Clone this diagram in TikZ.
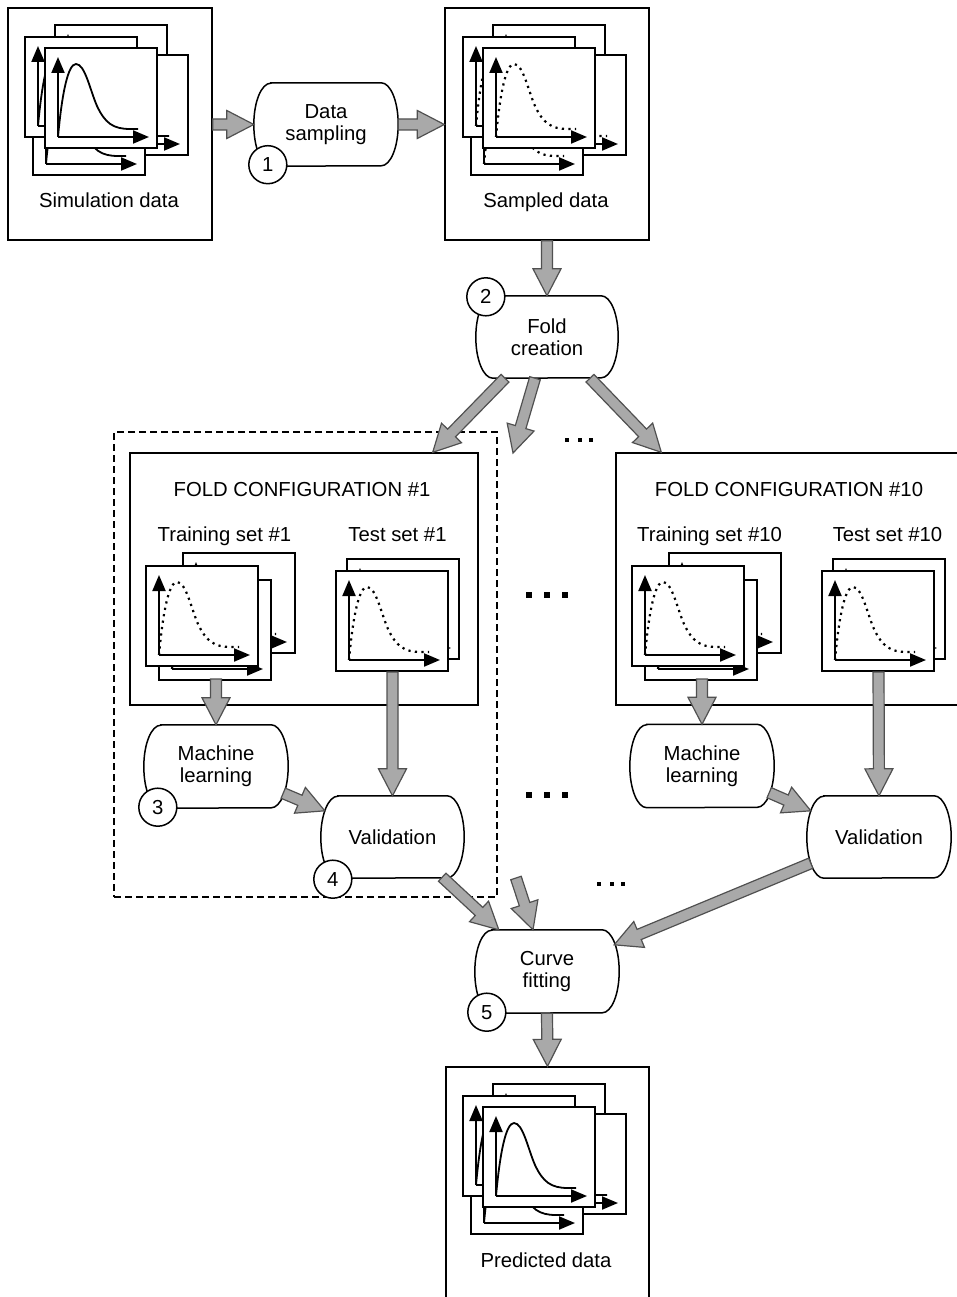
\documentclass[tikz,border=0pt]{standalone}
\usepackage{fontspec}
\setmainfont{Liberation Sans}
\usetikzlibrary{calc,arrows.meta}
\newcommand\dfont{\fontsize{20.3}{22}\selectfont}
\definecolor{arrowfill}{HTML}{A9A9A9}
\definecolor{arrowline}{HTML}{505050}
\tikzset{
  outerbox/.style={draw, line width=1.4pt, inner sep=0pt},
  dashbox/.style={draw, line width=1.4pt, inner sep=0pt, dash pattern=on 7pt off 4pt},
  framebox/.style={draw, fill=white, line width=1.8pt},
  plotaxis/.style={line width=2pt, -{Triangle[length=16pt,width=13pt]}},
  solidcurve/.style={line width=1.8pt},
  dotcurve/.style={line width=2.2pt, dash pattern=on 2.2pt off 4.3pt},
  lbl/.style={font=\dfont, inner sep=0pt, align=center},
  proctext/.style={font=\dfont, inner sep=0pt, align=center, draw=none},
  procline/.style={draw, line width=1.5pt},
  numcirc/.style={circle, draw, line width=1.5pt, fill=white, minimum size=38pt, inner sep=0pt, font=\dfont},
  blockarrow/.style={draw=arrowline, fill=arrowfill, line width=1.2pt, line join=miter},
  pics/plotframe/.style={code={
     \draw[framebox] (0,0) rectangle (112,100);
     \draw[#1] (13,89) .. controls (17,45) and (23,16) .. (31,16)
        .. controls (40,16) and (45,42) .. (52,58)
        .. controls (60,75) and (68,81) .. (85,81) -- (93,81);
     \draw[plotaxis] (13,89) -- (13,9);
     \draw[plotaxis] (13,89) -- (104,89);
  }},
}
\newcommand\bigstack[3]{%
  \begin{scope}[shift={(#1,#2)}]
    \pic at (10,-23) {plotframe=#3};
    \pic at (31,7) {plotframe=#3};
    \pic at (-12,27) {plotframe=#3};
    \pic at (-20,-11) {plotframe=#3};
    \pic at (0,0) {plotframe=#3};
  \end{scope}}
\newcommand\trainstack[2]{%
  \begin{scope}[shift={(#1,#2)}]
    \pic at (37,-13) {plotframe=dotcurve};
    \pic at (13,14) {plotframe=dotcurve};
    \pic at (0,0) {plotframe=dotcurve};
  \end{scope}}
\newcommand\teststack[2]{%
  \begin{scope}[shift={(#1,#2)}]
    \pic at (11,-12) {plotframe=dotcurve};
    \pic at (0,0) {plotframe=dotcurve};
  \end{scope}}
\newcommand\procnode[6]{%
  \node[proctext, minimum width=#4pt, minimum height=#5pt] (#1) at (#2,#3) {#6};
  \draw[procline] ([xshift=17pt]#1.north west) -- ([xshift=-17pt]#1.north east)
     arc[start angle=90, end angle=-90, x radius=17pt, y radius=#5pt/2]
     -- ([xshift=17pt]#1.south west)
     arc[start angle=270, end angle=90, x radius=17pt, y radius=#5pt/2] -- cycle;
}
\newcommand\barrow[2]{%
  \coordinate (bas) at (#1);
  \coordinate (bae) at (#2);
  \coordinate (bah) at ($(bae)!27pt!(bas)$);
  \draw[blockarrow] ($(bas)!5.5pt!90:(bae)$) -- ($(bah)!5.5pt!-90:(bas)$)
    -- ($(bah)!14pt!-90:(bas)$) -- (bae) -- ($(bah)!14pt!90:(bas)$)
    -- ($(bah)!5.5pt!90:(bas)$) -- ($(bas)!5.5pt!-90:(bae)$) -- cycle;
}
\begin{document}
\begin{tikzpicture}[x=1pt,y=-1pt]
\useasboundingbox (0,0) rectangle (957,1297);
% data boxes
\node[outerbox, minimum width=204pt, minimum height=232pt] (simbox) at (110,124) {};
\node[outerbox, minimum width=204pt, minimum height=232pt] (sampbox) at (547,124) {};
\node[outerbox, minimum width=203pt, minimum height=234pt] (predbox) at (547.5,1184) {};
\bigstack{45}{48}{solidcurve}
\bigstack{483}{48}{dotcurve}
\bigstack{483}{1107}{solidcurve}
\node[lbl, anchor=base] (simlbl) at (109,208) {Simulation data};
\node[lbl, anchor=base] (samplbl) at (546,208) {Sampled data};
\node[lbl, anchor=base] (predlbl) at (546,1267) {Predicted data};
% processes top
\procnode{ds}{326}{124.5}{144}{83}{Data\\sampling}
\node[numcirc] (n1) at ([xshift=14pt,yshift=1.5pt]ds.south west) {1};
\procnode{fc}{547}{337}{142}{82}{Fold\\creation}
\node[numcirc] (n2) at ([xshift=10pt,yshift=-1pt]fc.north west) {2};
% fold configuration 1
\node[dashbox, minimum width=383pt, minimum height=465pt] (grp1) at (305.5,664.5) {};
\node[outerbox, minimum width=348pt, minimum height=252pt] (cfg1) at (304,579) {};
\node[lbl, anchor=base] (cfg1t) at (302,496) {FOLD CONFIGURATION \#1};
\node[lbl, anchor=base] (tr1t) at (224.5,541) {Training set \#1};
\node[lbl, anchor=base] (te1t) at (397.5,541) {Test set \#1};
\trainstack{146}{566}
\teststack{336}{571}
\coordinate (tr1b) at (216,679);
\coordinate (te1b) at (392.5,672);
\procnode{ml1}{216}{766.5}{144}{83}{Machine\\learning}
\procnode{val1}{392.5}{837}{143}{82}{Validation}
\node[numcirc] (n3) at ([xshift=14pt,yshift=1pt]ml1.south west) {3};
\node[numcirc] (n4) at ([xshift=12pt,yshift=-1pt]val1.south west) {4};
% fold configuration 10
\node[outerbox, minimum width=348pt, minimum height=252pt] (cfg10) at (790,579) {};
\node[lbl, anchor=base] (cfg10t) at (789,496) {FOLD CONFIGURATION \#10};
\node[lbl, anchor=base] (tr10t) at (709.5,541) {Training set \#10};
\node[lbl, anchor=base] (te10t) at (887.5,541) {Test set \#10};
\trainstack{632}{566}
\teststack{822}{571}
\coordinate (tr10b) at (702,679);
\coordinate (te10b) at (878.5,672);
\procnode{ml10}{702}{766}{144}{83}{Machine\\learning}
\procnode{val10}{879}{837}{144}{82}{Validation}
% curve fitting
\procnode{cf}{547}{971.5}{144}{83}{Curve\\fitting}
\node[numcirc] (n5) at ([xshift=12pt,yshift=1pt]cf.south west) {5};
% dots
\foreach \x in {567,580,591} \fill (\x-2.2,437.8) rectangle ++(4.4,4.4);
\foreach \x in {528.5,546.5,565} \fill (\x-3,592) rectangle ++(6,6);
\foreach \x in {528.5,546.5,565} \fill (\x-3,792) rectangle ++(6,6);
\foreach \x in {599,612,623} \fill (\x-2.2,881.8) rectangle ++(4.4,4.4);
% block arrows
\barrow{simbox.east |- ds.west}{ds.west}
\barrow{ds.east}{sampbox.west |- ds.east}
\barrow{sampbox.south}{fc.north}
\barrow{[xshift=-42pt]fc.south}{[xshift=-46pt]cfg1.north east}
\coordinate (midtop) at (513,453);
\barrow{[xshift=-12pt]fc.south}{midtop}
\barrow{[xshift=43pt]fc.south}{[xshift=46pt]cfg10.north west}
\barrow{tr1b}{ml1.north}
\barrow{te1b}{val1.north}
\barrow{[xshift=-5pt,yshift=15pt]ml1.south east}{[xshift=4pt,yshift=-15pt]val1.north west}
\barrow{tr10b}{ml10.north}
\barrow{te10b}{val10.north}
\barrow{[xshift=-5pt,yshift=15pt]ml10.south east}{[xshift=4pt,yshift=-15pt]val10.north west}
\barrow{[xshift=-22pt,yshift=1pt]val1.south east}{[xshift=24pt]cf.north west}
\coordinate (midbot) at (516,878);
\barrow{midbot}{[xshift=-14pt]cf.north}
\barrow{[xshift=4pt,yshift=15pt]val10.south west}{[xshift=-5pt,yshift=-15pt]cf.north east}
\barrow{cf.south}{predbox.north}
\end{tikzpicture}
\end{document}
